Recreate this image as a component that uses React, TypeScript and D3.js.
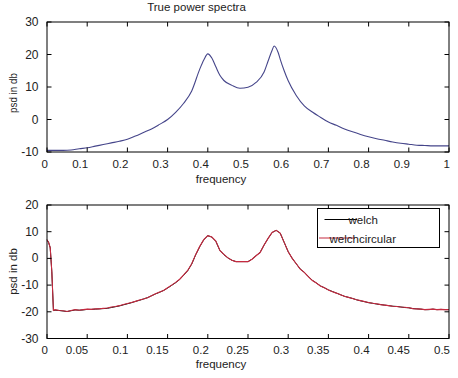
import React from "react";
import * as d3 from "d3";

// ---------- Top panel: true power spectra ----------
const trueFreq = [0, 0.02, 0.04, 0.06, 0.08, 0.1, 0.12, 0.14, 0.16, 0.18, 0.2, 0.22, 0.24, 0.26, 0.28, 0.3, 0.32, 0.34, 0.36, 0.38, 0.39, 0.4, 0.41, 0.42, 0.43, 0.44, 0.46, 0.48, 0.5, 0.52, 0.54, 0.55, 0.56, 0.565, 0.575, 0.58, 0.59, 0.6, 0.62, 0.64, 0.66, 0.68, 0.7, 0.72, 0.74, 0.76, 0.78, 0.8, 0.82, 0.84, 0.86, 0.88, 0.9, 0.92, 0.94, 0.96, 0.98, 1.0];
const truePsd = [-9.5, -9.5, -9.5, -9.4, -9.0, -8.7, -8.2, -7.7, -7.2, -6.7, -6.1, -5.1, -4.0, -2.9, -1.5, 0.0, 2.2, 5.0, 8.8, 15.5, 18.3, 20.2, 18.9, 16.2, 13.6, 12.0, 10.5, 9.6, 9.9, 11.4, 14.6, 18.0, 21.3, 22.6, 20.6, 18.6, 15.0, 11.9, 7.4, 4.2, 2.3, 0.7, -0.8, -1.8, -2.9, -3.8, -4.6, -5.3, -5.9, -6.4, -6.9, -7.3, -7.6, -7.9, -8.0, -8.1, -8.1, -8.1];
const topXTicks = [0, 0.1, 0.2, 0.3, 0.4, 0.5, 0.6, 0.7, 0.8, 0.9, 1];
const topXTickLabels = ["0", "0.1", "0.2", "0.3", "0.4", "0.5", "0.6", "0.7", "0.8", "0.9", "1"];
const topYTicks = [-10, 0, 10, 20, 30];
const topYTickLabels = ["-10", "0", "10", "20", "30"];

// ---------- Bottom panel: welch vs welchcircular ----------
const estFreq = [0, 0.002, 0.004, 0.006, 0.008, 0.01, 0.015, 0.02, 0.025, 0.03, 0.035, 0.04, 0.045, 0.05, 0.055, 0.06, 0.065, 0.07, 0.075, 0.08, 0.085, 0.09, 0.095, 0.1, 0.105, 0.11, 0.115, 0.12, 0.125, 0.13, 0.135, 0.14, 0.145, 0.15, 0.155, 0.16, 0.165, 0.17, 0.175, 0.18, 0.185, 0.19, 0.195, 0.2, 0.205, 0.21, 0.215, 0.22, 0.225, 0.23, 0.235, 0.24, 0.245, 0.25, 0.255, 0.26, 0.265, 0.27, 0.275, 0.28, 0.285, 0.29, 0.295, 0.3, 0.305, 0.31, 0.315, 0.32, 0.325, 0.33, 0.335, 0.34, 0.345, 0.35, 0.355, 0.36, 0.365, 0.37, 0.375, 0.38, 0.385, 0.39, 0.395, 0.4, 0.405, 0.41, 0.415, 0.42, 0.425, 0.43, 0.435, 0.44, 0.445, 0.45, 0.455, 0.46, 0.465, 0.47, 0.475, 0.48, 0.485, 0.49, 0.495, 0.5];
const welchPsd = [7.0, 6.0, 4.0, -5.0, -19.5, -19.4, -19.5, -19.7, -19.9, -19.6, -19.3, -19.4, -19.3, -19.1, -19.1, -19.0, -18.9, -18.8, -18.7, -18.4, -18.1, -17.8, -17.4, -17.0, -16.6, -16.1, -15.7, -15.2, -14.7, -14.0, -13.3, -12.7, -12.0, -11.1, -10.1, -9.1, -7.9, -6.3, -4.6, -2.1, 1.4, 4.4, 7.0, 8.5, 8.0, 6.4, 3.0, 1.4, 0.2, -0.7, -1.2, -1.2, -1.2, -1.2, -0.3, 1.0, 2.2, 5.0, 7.5, 9.7, 10.5, 9.5, 6.0, 2.5, 0.0, -2.0, -4.0, -5.2, -6.8, -8.2, -9.2, -10.3, -11.0, -11.8, -12.4, -13.0, -13.6, -14.2, -14.6, -15.0, -15.5, -15.9, -16.2, -16.6, -16.8, -17.1, -17.3, -17.5, -17.7, -17.9, -18.0, -18.2, -18.4, -18.5, -18.8, -18.9, -19.0, -19.2, -19.2, -19.0, -19.2, -19.1, -19.2, -19.2];
const circPsd = [7.0, 6.0, 4.0, -5.0, -19.5, -19.2, -19.5, -19.6, -19.9, -19.5, -19.2, -19.4, -19.2, -19.0, -19.1, -18.9, -18.9, -18.7, -18.6, -18.2, -18.0, -17.7, -17.3, -16.9, -16.5, -16.1, -15.6, -15.2, -14.7, -14.0, -13.2, -12.6, -12.0, -11.0, -10.0, -9.0, -7.8, -6.2, -4.5, -2.0, 1.5, 4.5, 7.0, 8.5, 8.0, 6.5, 3.0, 1.5, 0.2, -0.7, -1.2, -1.2, -1.2, -1.2, -0.3, 1.0, 2.2, 5.0, 7.5, 9.7, 10.5, 9.5, 6.0, 2.5, 0.0, -2.0, -4.0, -5.2, -6.8, -8.3, -9.2, -10.3, -11.0, -11.8, -12.5, -13.0, -13.6, -14.2, -14.6, -15.0, -15.5, -15.8, -16.2, -16.5, -16.8, -17.0, -17.3, -17.5, -17.7, -17.9, -18.0, -18.2, -18.3, -18.5, -18.8, -18.9, -19.0, -19.2, -19.1, -19.0, -19.2, -19.1, -19.2, -19.2];
const botXTicks = [0, 0.05, 0.1, 0.15, 0.2, 0.25, 0.3, 0.35, 0.4, 0.45, 0.5];
const botXTickLabels = ["0", "0.05", "0.1", "0.15", "0.2", "0.25", "0.3", "0.35", "0.4", "0.45", "0.5"];
const botYTicks = [-30, -20, -10, 0, 10, 20];
const botYTickLabels = ["-30", "-20", "-10", "0", "10", "20"];
const legendLabels = ["welch", "welchcircular"];

const FONT = "'Liberation Sans', Arial, Helvetica, sans-serif";
const FS = 11.5;
const TEXT = "#222";

type PanelProps = {
  x: d3.ScaleLinear<number, number>;
  y: d3.ScaleLinear<number, number>;
  xTicks: number[];
  xLabels: string[];
  yTicks: number[];
  yLabels: string[];
  labelY: number;
};

function Frame({ x, y, xTicks, xLabels, yTicks, yLabels, labelY }: PanelProps) {
  const [x0, x1] = x.range();
  const [y0, y1] = y.range(); // y0 bottom, y1 top
  const tl = 4.5;
  return (
    <g>
      <rect x={x0} y={y1} width={x1 - x0} height={y0 - y1} fill="none" stroke="#000" strokeWidth={1} />
      {xTicks.map((t, i) => (
        <g key={"xt" + i}>
          <line x1={x(t)} x2={x(t)} y1={y0} y2={y0 - tl} stroke="#000" />
          <line x1={x(t)} x2={x(t)} y1={y1} y2={y1 + tl} stroke="#000" />
          <text x={x(t) + 1} y={labelY} textAnchor="end" fontFamily={FONT} fontSize={FS} fill={TEXT}>
            {xLabels[i]}
          </text>
        </g>
      ))}
      {yTicks.map((t, i) => (
        <g key={"yt" + i}>
          <line x1={x0} x2={x0 + tl} y1={y(t)} y2={y(t)} stroke="#000" />
          <line x1={x1} x2={x1 - tl} y1={y(t)} y2={y(t)} stroke="#000" />
          <text x={38.5} y={y(t) + 4} textAnchor="end" fontFamily={FONT} fontSize={FS + 0.5} fill={TEXT}>
            {yLabels[i]}
          </text>
        </g>
      ))}
    </g>
  );
}

export default function App() {
  const L = 47;
  const R = 449;
  const xTop = d3.scaleLinear().domain([0, 1]).range([L, R]);
  const yTop = d3.scaleLinear().domain([-10, 30]).range([152, 22]);
  const xBot = d3.scaleLinear().domain([0, 0.5]).range([L, R]);
  const yBot = d3.scaleLinear().domain([-30, 20]).range([338.5, 205]);

  const topLine = d3
    .line<number>()
    .x((_, i) => xTop(trueFreq[i]))
    .y((d) => yTop(d))
    .curve(d3.curveMonotoneX);
  const botLine = d3
    .line<number>()
    .x((_, i) => xBot(estFreq[i]))
    .y((d) => yBot(d));

  return (
    <svg
      width={458}
      height={378}
      style={{ position: "absolute", left: 0, top: 0, background: "#fff" }}
    >
      <rect x={0} y={0} width={458} height={378} fill="#fff" />
      {/* top panel */}
      <text x={196.5} y={11} textAnchor="middle" fontFamily={FONT} fontSize={FS} fill={TEXT}>
        True power spectra
      </text>
      <path d={topLine(truePsd) || ""} fill="none" stroke="#45458a" strokeWidth={1.1} />
      <Frame x={xTop} y={yTop} xTicks={topXTicks} xLabels={topXTickLabels} yTicks={topYTicks} yLabels={topYTickLabels} labelY={167.5} />
      <text x={221} y={182.5} textAnchor="middle" fontFamily={FONT} fontSize={FS} fill={TEXT}>
        frequency
      </text>
      <text
        transform={`translate(16.5,93) rotate(-90)`}
        textAnchor="middle"
        fontFamily={FONT}
        fontSize={FS}
        fill={TEXT}
        textLength={40}
        lengthAdjust="spacingAndGlyphs"
      >
        psd in db
      </text>

      {/* bottom panel */}
      <path d={botLine(welchPsd) || ""} fill="none" stroke="#000" strokeWidth={1} />
      <path d={botLine(circPsd) || ""} fill="none" stroke="#c62a40" strokeWidth={1.1} />
      <Frame x={xBot} y={yBot} xTicks={botXTicks} xLabels={botXTickLabels} yTicks={botYTicks} yLabels={botYTickLabels} labelY={353.5} />
      <text x={221} y={367.5} textAnchor="middle" fontFamily={FONT} fontSize={FS} fill={TEXT}>
        frequency
      </text>
      <text transform={`translate(16.5,271.5) rotate(-90)`} textAnchor="middle" fontFamily={FONT} fontSize={FS} fill={TEXT}>
        psd in db
      </text>

      {/* legend */}
      <rect x={317.5} y={208.5} width={122} height={39} fill="#fff" stroke="#000" strokeWidth={1} />
      <line x1={324.5} x2={357} y1={219.5} y2={219.5} stroke="#000" strokeWidth={1} />
      <text x={348.5} y={224} fontFamily={FONT} fontSize={FS} fill={TEXT}>
        {legendLabels[0]}
      </text>
      <line x1={319} x2={355} y1={238} y2={238} stroke="#c62a40" strokeWidth={1.1} />
      <text x={329.5} y={242.5} fontFamily={FONT} fontSize={FS} fill={TEXT}>
        {legendLabels[1]}
      </text>
    </svg>
  );
}
